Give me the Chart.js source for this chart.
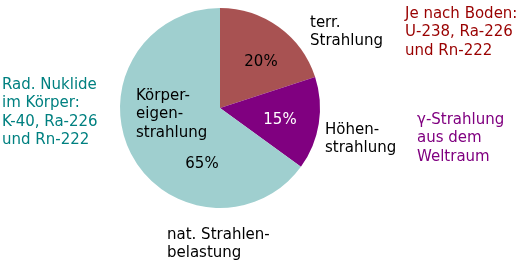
<!DOCTYPE html>
<html><head><meta charset="utf-8">
<script src="https://cdn.jsdelivr.net/npm/chart.js@4/dist/chart.umd.min.js"></script>
<style>html,body{margin:0;padding:0;background:#fff}#wrap{width:524px;height:262px;position:relative}</style>
</head><body><div id="wrap"><canvas id="c" width="524" height="262"></canvas></div>
<script>
const categories = ["terr. Strahlung", "Höhenstrahlung", "Körpereigenstrahlung"];
const values = [20, 15, 65];
const sliceColors = ["#a85252", "#800080", "#9fcfcf"];
const percentLabels = ["20%", "15%", "65%"];

const FONT = '15px "DejaVu Sans", sans-serif';
const notes = [
  {lines:["terr.","Strahlung"], x:310, y:23, color:"#000"},
  {lines:["Je nach Boden:","U-238, Ra-226","und Rn-222"], x:405, y:14, color:"#990000"},
  {lines:["Rad. Nuklide","im Körper:","K-40, Ra-226","und Rn-222"], x:2, y:85, color:"#008080"},
  {lines:["Höhen-","strahlung"], x:325, y:130, color:"#000"},
  {lines:["γ-Strahlung","aus dem","Weltraum"], x:417, y:120, color:"#800080"},
  {lines:["Körper-","eigen-","strahlung"], x:136, y:96, color:"#000"},
  {lines:["nat. Strahlen-","belastung"], x:167, y:235, color:"#000"}
];
const pctPos = [{dx:41,dy:-46,color:"#000"},{dx:60,dy:12,color:"#fff"},{dx:-18,dy:56,color:"#000"}];

const textPlugin = {
  id:'texts',
  afterDatasetsDraw(chart){
    const ctx = chart.ctx;
    const arc = chart.getDatasetMeta(0).data[0];
    const cx = arc.x, cy = arc.y;
    ctx.save();
    ctx.font = FONT;
    ctx.textBaseline = 'middle';
    ctx.textAlign = 'left';
    notes.forEach(n=>{
      ctx.fillStyle = n.color;
      n.lines.forEach((l,i)=>ctx.fillText(l, n.x, n.y + i*18.5));
    });
    ctx.textAlign = 'center';
    percentLabels.forEach((p,i)=>{
      ctx.fillStyle = pctPos[i].color;
      ctx.fillText(p, cx + pctPos[i].dx, cy + pctPos[i].dy);
    });
    ctx.restore();
  }
};

new Chart(document.getElementById('c'), {
  type:'pie',
  data:{labels:categories, datasets:[{data:values, backgroundColor:sliceColors, borderWidth:0}]},
  options:{
    responsive:false, animation:false,
    layout:{padding:{left:120, right:204, top:8, bottom:54}},
    plugins:{legend:{display:false}, tooltip:{enabled:false}}
  },
  plugins:[textPlugin]
});
</script></body></html>
